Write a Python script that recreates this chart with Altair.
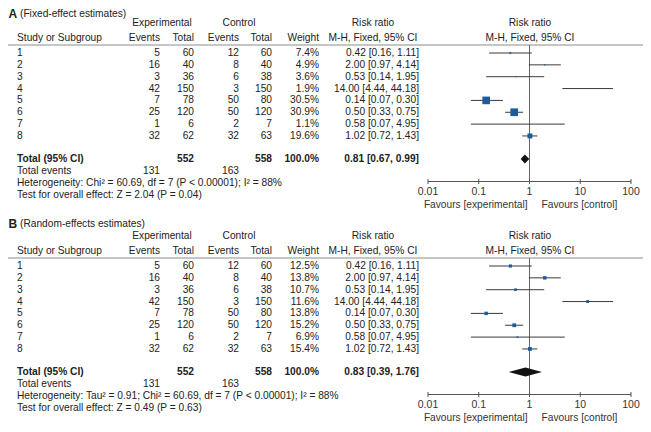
import altair as alt
import pandas as pd

# ---------------- data ----------------
studies = ["1", "2", "3", "4", "5", "6", "7", "8"]
exp_events = [5, 16, 3, 42, 7, 25, 1, 32]
exp_total = [60, 40, 36, 150, 78, 120, 6, 62]
ctl_events = [12, 8, 6, 3, 50, 50, 2, 32]
ctl_total = [60, 40, 38, 150, 80, 120, 7, 63]
rr = [0.42, 2.00, 0.53, 14.00, 0.14, 0.50, 0.58, 1.02]
rr_lo = [0.16, 0.97, 0.14, 4.44, 0.07, 0.33, 0.07, 0.72]
rr_hi = [1.11, 4.14, 1.95, 44.18, 0.30, 0.75, 4.95, 1.43]
weight_fixed = [7.4, 4.9, 3.6, 1.9, 30.5, 30.9, 1.1, 19.6]
weight_random = [12.5, 13.8, 10.7, 11.6, 13.8, 15.2, 6.9, 15.4]

panel_letters = ["A", "B"]
panel_titles = ["(Fixed-effect estimates)", "(Random-effects estimates)"]
panel_weights = [weight_fixed, weight_random]
pooled_rr = [0.81, 0.83]
pooled_lo = [0.67, 0.39]
pooled_hi = [0.99, 1.76]
total_weight = [100.0, 100.0]
total_exp = 552
total_ctl = 558
events_exp = 131
events_ctl = 163
heterogeneity = [
    "Heterogeneity: Chi² = 60.69, df = 7 (P < 0.00001); I² = 88%",
    "Heterogeneity: Tau² = 0.91; Chi² = 60.69, df = 7 (P < 0.00001); I² = 88%",
]
overall = [
    "Test for overall effect: Z = 2.04 (P = 0.04)",
    "Test for overall effect: Z = 0.49 (P = 0.63)",
]
axis_ticks = [0.01, 0.1, 1, 10, 100]
axis_labels = ["0.01", "0.1", "1", "10", "100"]

# ---------------- layout (page pixels) ----------------
FONT = "Liberation Sans"
FS = 10.2
TXT = "#222222"
BLUE = "#1d5c9b"
PAD_L, PAD_T = 6, 8
VIEW_X0, VIEW_Y0 = 8 + PAD_L, 8 + PAD_T
VIEW_W, VIEW_H = 629, 408
PANEL_OFF = [0, 213]
Y_TITLE_PANEL = [13.5, 224]
Y_H1, Y_H2, Y_RULE = 22.5, 37.5, 45
Y_ROW1, ROW_STEP = 53, 11.85
Y_TOTAL, Y_EVENTS, Y_HET, Y_TEST = 159, 171, 183, 195
Y_AXIS, Y_TICKLAB, Y_FAV = 181.5, 192, 204.5
X_LETTER, X_TITLE, X_STUDY = 8.5, 20, 17
X_EE, X_ET, X_CE, X_CT, X_W, X_RR = 160, 194, 239, 272, 319, 419
X_EXP_HDR, X_CTL_HDR, X_RR_HDR, X_FOREST_HDR = 162, 239, 373, 530
X_RULE0, X_RULE1 = 5, 645
X_LOG0, X_LOG1 = 428, 631

XPIX = alt.Scale(type="linear", domain=[VIEW_X0, VIEW_X0 + VIEW_W], range=[0, VIEW_W], zero=False, nice=False)
YPIX = alt.Scale(type="linear", domain=[VIEW_Y0, VIEW_Y0 + VIEW_H], range=[0, VIEW_H], zero=False, nice=False)
XLOG = alt.Scale(type="log", domain=[0.01, 100], range=[X_LOG0 - VIEW_X0, X_LOG1 - VIEW_X0], nice=False)

rows = {k: [] for k in ["ln", "lb", "rn", "rb", "cn", "title"]}
ci_rows, sq_rows, vline_rows, hrule_rows, axis_rows, tick_rows, ticklab_rows, fav_rows, dia_rows = ([] for _ in range(9))

fmt_rr = lambda e, l, h: f"{e:.2f} [{l:.2f}, {h:.2f}]"

for p in range(2):
    off = PANEL_OFF[p]
    rows["title"].append(dict(x=X_LETTER, y=Y_TITLE_PANEL[p], text=panel_letters[p]))
    rows["ln"].append(dict(x=X_TITLE, y=Y_TITLE_PANEL[p], text=panel_titles[p]))
    rows["cn"] += [
        dict(x=X_EXP_HDR, y=Y_H1 + off, text="Experimental"),
        dict(x=X_CTL_HDR, y=Y_H1 + off, text="Control"),
        dict(x=X_RR_HDR, y=Y_H1 + off, text="Risk ratio"),
        dict(x=X_RR_HDR, y=Y_H2 + off, text="M-H, Fixed, 95% CI"),
        dict(x=X_FOREST_HDR, y=Y_H1 + off, text="Risk ratio"),
        dict(x=X_FOREST_HDR, y=Y_H2 + off, text="M-H, Fixed, 95% CI"),
    ]
    rows["ln"].append(dict(x=X_STUDY, y=Y_H2 + off, text="Study or Subgroup"))
    rows["rn"] += [
        dict(x=X_EE, y=Y_H2 + off, text="Events"),
        dict(x=X_ET, y=Y_H2 + off, text="Total"),
        dict(x=X_CE, y=Y_H2 + off, text="Events"),
        dict(x=X_CT, y=Y_H2 + off, text="Total"),
        dict(x=X_W, y=Y_H2 + off, text="Weight"),
    ]
    hrule_rows.append(dict(x=X_RULE0, x2=X_RULE1, y=Y_RULE + off))
    for i, s in enumerate(studies):
        y = Y_ROW1 + i * ROW_STEP + off
        rows["ln"].append(dict(x=X_STUDY, y=y, text=s))
        rows["rn"] += [
            dict(x=X_EE, y=y, text=str(exp_events[i])),
            dict(x=X_ET, y=y, text=str(exp_total[i])),
            dict(x=X_CE, y=y, text=str(ctl_events[i])),
            dict(x=X_CT, y=y, text=str(ctl_total[i])),
            dict(x=X_W, y=y, text=f"{panel_weights[p][i]:.1f}%"),
            dict(x=X_RR, y=y, text=fmt_rr(rr[i], rr_lo[i], rr_hi[i])),
        ]
        ci_rows.append(dict(lo=rr_lo[i], hi=rr_hi[i], y=y))
        sq_rows.append(dict(rr=rr[i], y=y, weight=panel_weights[p][i]))
    yt = Y_TOTAL + off
    rows["lb"].append(dict(x=X_STUDY, y=yt, text="Total (95% CI)"))
    rows["rb"] += [
        dict(x=X_ET, y=yt, text=str(total_exp)),
        dict(x=X_CT, y=yt, text=str(total_ctl)),
        dict(x=X_W, y=yt, text=f"{total_weight[p]:.1f}%"),
        dict(x=X_RR, y=yt, text=fmt_rr(pooled_rr[p], pooled_lo[p], pooled_hi[p])),
    ]
    rows["ln"] += [
        dict(x=X_STUDY, y=Y_EVENTS + off, text="Total events"),
        dict(x=X_STUDY, y=Y_HET + off, text=heterogeneity[p]),
        dict(x=X_STUDY, y=Y_TEST + off, text=overall[p]),
    ]
    rows["rn"] += [
        dict(x=X_EE, y=Y_EVENTS + off, text=str(events_exp)),
        dict(x=X_CE, y=Y_EVENTS + off, text=str(events_ctl)),
    ]
    h = 4.5
    dia_rows += [
        dict(panel=p, x=pooled_lo[p], y=yt, y2=yt),
        dict(panel=p, x=pooled_rr[p], y=yt - h, y2=yt + h),
        dict(panel=p, x=pooled_hi[p], y=yt, y2=yt),
    ]
    vline_rows.append(dict(x=1, y=Y_RULE + off, y2=Y_AXIS + off))
    axis_rows.append(dict(x=min(axis_ticks), x2=max(axis_ticks), y=Y_AXIS + off))
    for t, lab in zip(axis_ticks, axis_labels):
        tick_rows.append(dict(x=t, y=Y_AXIS + off - 2.5, y2=Y_AXIS + off + 2.5))
        ticklab_rows.append(dict(x=t, y=Y_TICKLAB + off, text=lab))
    fav_rows.append(dict(x=1, y=Y_FAV + off, text="Favours [experimental]", side="l"))
    fav_rows.append(dict(x=1, y=Y_FAV + off, text="Favours [control]", side="r"))


def ytxt():
    return alt.Y("y:Q", scale=YPIX, axis=None)


def text_layer(data, align, bold=False, size=FS, log=False, dx=0, color=TXT):
    xs = XLOG if log else XPIX
    return alt.Chart(pd.DataFrame(data)).mark_text(
        align=align, baseline="middle", font=FONT, fontSize=size,
        fontWeight="bold" if bold else "normal", color=color, dx=dx
    ).encode(x=alt.X("x:Q", scale=xs, axis=None), y=ytxt(), text="text:N")


layers = [
    text_layer(rows["title"], "left", bold=True, size=12),
    text_layer(rows["ln"], "left"),
    text_layer(rows["lb"], "left", bold=True),
    text_layer(rows["rn"], "right"),
    text_layer(rows["rb"], "right", bold=True),
    text_layer(rows["cn"], "center"),
    alt.Chart(pd.DataFrame(hrule_rows)).mark_rule(color="#8c8c8c", strokeWidth=1).encode(
        x=alt.X("x:Q", scale=XPIX, axis=None), x2="x2:Q", y=ytxt()),
    alt.Chart(pd.DataFrame(vline_rows)).mark_rule(color="#666666", strokeWidth=1).encode(
        x=alt.X("x:Q", scale=XLOG, axis=None), y=ytxt(), y2="y2:Q"),
    alt.Chart(pd.DataFrame(axis_rows)).mark_rule(color="#555555", strokeWidth=1).encode(
        x=alt.X("x:Q", scale=XLOG, axis=None), x2="x2:Q", y=ytxt()),
    alt.Chart(pd.DataFrame(tick_rows)).mark_rule(color="#555555", strokeWidth=1).encode(
        x=alt.X("x:Q", scale=XLOG, axis=None), y=ytxt(), y2="y2:Q"),
    text_layer(ticklab_rows, "center", log=True, size=10.5, color="#333333"),
    text_layer([r for r in fav_rows if r["side"] == "l"], "right", log=True, dx=-2, color="#333333"),
    text_layer([r for r in fav_rows if r["side"] == "r"], "left", log=True, dx=12, color="#333333"),
    alt.Chart(pd.DataFrame(ci_rows)).mark_rule(color="#3a3a3a", strokeWidth=1).encode(
        x=alt.X("lo:Q", scale=XLOG, axis=None), x2="hi:Q", y=ytxt()),
    alt.Chart(pd.DataFrame(sq_rows)).mark_square(color=BLUE, filled=True, opacity=1).encode(
        x=alt.X("rr:Q", scale=XLOG, axis=None), y=ytxt(),
        size=alt.Size("weight:Q", scale=alt.Scale(type="pow", exponent=2, domain=[0, 31], range=[0, 60]), legend=None)),
    alt.Chart(pd.DataFrame(dia_rows)).mark_area(color="#111111", opacity=1, orient="vertical").encode(
        x=alt.X("x:Q", scale=XLOG, axis=None), y=ytxt(), y2="y2:Q", detail="panel:N"),
]

chart = alt.layer(*layers).resolve_scale(x="independent").properties(
    width=VIEW_W, height=VIEW_H,
    padding={"left": PAD_L, "top": PAD_T, "right": 0, "bottom": 0},
    autosize=alt.AutoSizeParams(type="none"),
).configure_view(stroke=None)

chart.save("out.html", embed_options={"renderer": "svg", "actions": False})
